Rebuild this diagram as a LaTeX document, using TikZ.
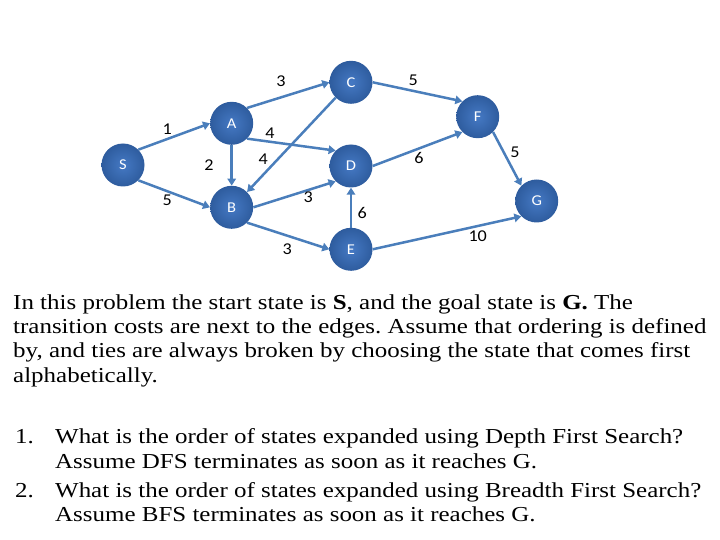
\documentclass[tikz,border=0pt]{standalone}
\usepackage{fontspec}
\setmainfont{Liberation Serif}[FakeStretch=1.172]
\newfontfamily\lblfont{Carlito}[FakeStretch=1.1]
\usetikzlibrary{arrows.meta}
\definecolor{edgeblue}{HTML}{4A7EBB}
\definecolor{nodein}{HTML}{4579C4}
\definecolor{nodeout}{HTML}{2E5C9E}
\tikzset{
  state/.style={circle, minimum size=43pt, inner sep=0pt, inner color=nodein, outer color=nodeout,
    text=white, font=\lblfont\fontsize{15}{15}\selectfont},
  edge/.style={draw=edgeblue, line width=2.5pt, -{Triangle[length=7pt,width=8.5pt]}},
  cost/.style={font=\lblfont\fontsize{16.5}{16.5}\selectfont, inner sep=0pt},
  para/.style={anchor=base west, inner sep=0pt, font=\fontsize{21.3}{24}\selectfont}
}
\frenchspacing
\begin{document}
\begin{tikzpicture}[x=1pt,y=-1pt]
\useasboundingbox (0,0) rectangle (720,540);
\node[state] (S) at (123,165) {S};
\node[state] (A) at (231.7,123.3) {A};
\node[state] (B) at (231.7,207.3) {B};
\node[state] (C) at (351,82.3) {C};
\node[state] (D) at (351,166) {D};
\node[state] (E) at (351,249.3) {E};
\node[state] (F) at (477.7,116.7) {F};
\node[state] (G) at (536.7,201) {G};

\draw[edge] (S.45) -- (A.180);
\draw[edge] (S.-45) -- (B.180);
\draw[edge] (A.270) -- (B.90);
\draw[edge] (A.45) -- (C.180);
\draw[edge] (A.-45) -- (D.135);
\draw[edge] (C.225) -- (B.45);
\draw[edge] (B.0) -- (D.225);
\draw[edge] (B.-45) -- (E.180);
\draw[edge] (E.90) -- (D.270);
\draw[edge] (C.0) -- (F.135);
\draw[edge] (D.0) -- (F.225);
\draw[edge] (F.-45) -- (G.135);
\draw[edge] (E.0) -- (G.225);

\node[cost] (c1) at (281,81.7) {3};
\node[cost] (c2) at (167.3,129) {1};
\node[cost] (c3) at (270,133.3) {4};
\node[cost] (c4) at (263.3,159.3) {4};
\node[cost] (c5) at (209,165) {2};
\node[cost] (c6) at (167.3,200.7) {5};
\node[cost] (c7) at (308.3,197.3) {3};
\node[cost] (c8) at (287.3,249.3) {3};
\node[cost] (c9) at (362.3,213.3) {6};
\node[cost] (c10) at (413.3,80.7) {5};
\node[cost] (c11) at (419,158.3) {6};
\node[cost] (c12) at (515,152.3) {5};
\node[cost] (c13) at (477.7,236.7) {10};

\node[para] (p1) at (13,309.3) {In this problem the start state is \textbf{S}, and the goal state is \textbf{G.} The};
\node[para] (p2) at (13,333.5) {transition costs are next to the edges. Assume that ordering is defined};
\node[para] (p3) at (13,357.8) {by, and ties are always broken by choosing the state that comes first};
\node[para] (p4) at (13,382) {alphabetically.};

\node[para] (n1) at (15,443.3) {1.};
\node[para] (q1) at (55,443.3) {What is the order of states expanded using Depth First Search?};
\node[para] (q1b) at (55,468) {Assume DFS terminates as soon as it reaches G.};
\node[para] (n2) at (15,497) {2.};
\node[para] (q2) at (55,497) {What is the order of states expanded using Breadth First Search?};
\node[para] (q2b) at (55,521.5) {Assume BFS terminates as soon as it reaches G.};
\end{tikzpicture}
\end{document}
